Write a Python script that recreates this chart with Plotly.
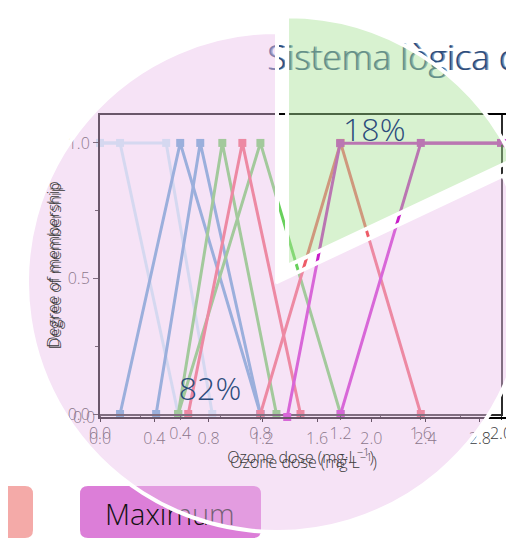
import plotly.graph_objects as go

# the page sits 8px in from the window corner, and the canvas is a bit larger
# than the window so the big pie can run off the right/bottom edges
W, H = 540, 548
OFF = 8

# pie shares (%)
pie_labels = ["Fuzzy", "Resta"]
pie_values = [18, 82]

# membership functions, ozone dose (mg/L) at the vertices
x_vlow = [0.0, 0.10, 0.39]
x_low = [0.0, 0.33, 0.56]
x_mlow_a = [0.10, 0.40, 0.80]
x_mlow_b = [0.28, 0.50, 0.80]
x_med_a = [0.39, 0.61, 0.88]
x_med_b = [0.39, 0.80, 1.20]
x_mhigh_a = [0.44, 0.71, 1.00]
x_mhigh_b = [0.80, 1.20, 1.60]
x_vhigh = [1.20, 1.60, 2.00]
# this one lives on the second (0-3) axis
x_high = [1.38, 1.77, 3.00]
y_left = [1, 1, 0]
y_tri = [0, 1, 0]
y_right = [0, 1, 1]

x_ticks_a = [0.0, 0.4, 0.8, 1.2, 1.6, 2.0]
x_ticks_b = [0.0, 0.4, 0.8, 1.2, 1.6, 2.0, 2.4, 2.8]
y_ticks = [0.0, 0.5, 1.0]

legend_names = ["Mean", "Maximum"]

light = "#c4ecf4"
blue = "#5aa0d0"
green = "#68d05c"
red = "#ee5c68"
magenta = "#c81ec8"
navy = "#2c4c7c"
FONT = "Open Sans"

series = [
    (x_vlow, y_left, light, "x", "y"), (x_low, y_left, light, "x", "y"),
    (x_mlow_a, y_tri, blue, "x", "y"), (x_mlow_b, y_tri, blue, "x", "y"),
    (x_med_a, y_tri, green, "x", "y"), (x_med_b, y_tri, green, "x", "y"),
    (x_mhigh_a, y_tri, red, "x", "y"), (x_mhigh_b, y_tri, red, "x", "y"),
    (x_vhigh, y_right, magenta, "x", "y"), (x_high, y_right, magenta, "x2", "y2"),
]


def fx(px):
    # window pixel -> paper fraction
    return (px - OFF) / W


def fy(py):
    return (H - (py - OFF)) / H


fig = go.Figure()

for xs, ys, col, xr, yr in series:
    fig.add_trace(go.Scatter(
        x=xs, y=ys, mode="lines+markers", cliponaxis=False,
        line=dict(color=col, width=3),
        marker=dict(symbol="square", size=8, color=col),
        xaxis=xr, yaxis=yr, showlegend=False, hoverinfo="x+y",
    ))

# text layer in window pixels (title + legend labels), sits under the pie
fig.add_trace(go.Scatter(
    x=[267], y=[61], mode="text", text=["Sistema lògica difusa"],
    textposition="middle right", cliponaxis=False,
    textfont=dict(family=FONT, size=35, color=navy, weight=300,
                  shadow="1.5px 0px 0px rgba(44,76,124,0.6)"),
    xaxis="x3", yaxis="y3", showlegend=False, hoverinfo="skip",
))
fig.add_trace(go.Scatter(
    x=[6, 105], y=[518, 518], mode="text", text=legend_names,
    textposition=["middle left", "middle right"], cliponaxis=False,
    textfont=dict(family=FONT, size=29, color="#111111", weight=300),
    xaxis="x3", yaxis="y3", showlegend=False, hoverinfo="skip",
))

fig.add_trace(go.Pie(
    labels=pie_labels, values=pie_values, sort=False,
    direction="clockwise", rotation=0, pull=[0.075, 0],
    marker=dict(colors=["rgba(169,227,151,0.45)", "rgba(234,194,234,0.45)"],
                line=dict(color="white", width=4)),
    textinfo="percent", textposition="inside",
    insidetextorientation="horizontal",
    insidetextfont=dict(family=FONT, size=32, color=navy, weight=300),
    domain=dict(x=[0.25 / W, 537.75 / W], y=[(H - 542.75) / H, (H - 5.25) / H]),
    showlegend=False,
))


def rounded(x0, y0, x1, y1, r):
    return (f"M{x0+r},{y0} L{x1-r},{y0} Q{x1},{y0} {x1},{y0+r} "
            f"L{x1},{y1-r} Q{x1},{y1} {x1-r},{y1} L{x0+r},{y1} "
            f"Q{x0},{y1} {x0},{y1-r} L{x0},{y0+r} Q{x0},{y0} {x0+r},{y0} Z")


fig.add_shape(type="path", path=rounded(-110, 486, 33, 538, 8),
              xref="x3", yref="y3", layer="below",
              fillcolor="#f4aaa8", line=dict(width=0))
fig.add_shape(type="path", path=rounded(80, 486, 261, 538, 8),
              xref="x3", yref="y3", layer="below",
              fillcolor="#dc7ed8", line=dict(width=0))

tick_font = dict(family=FONT, size=16, color="#3a3a3a", weight=300)
title_font = dict(family=FONT, size=16, color="#3a3a3a", weight=300)
xtitle = "Ozone dose (mg·L<sup>−1</sup>)"
ytitle = "Degree of membership"

# axes A (0-2) and B (0-3) drawn slightly offset from each other
fig.update_layout(
    width=W, height=H,
    margin=dict(l=0, r=0, t=0, b=0, autoexpand=False),
    paper_bgcolor="white", plot_bgcolor="rgba(0,0,0,0)",
    showlegend=False,
    xaxis=dict(domain=[fx(100), fx(501)], range=[0, 2.0], anchor="y",
               tickvals=x_ticks_a, tickformat=".1f", automargin=False,
               showline=True, mirror=True, linecolor="#2b2b2b", linewidth=2,
               ticks="outside", ticklen=4, tickcolor="#2b2b2b",
               minor=dict(ticks="outside", ticklen=2, dtick=0.2, tickcolor="#2b2b2b"),
               showgrid=False, zeroline=False, tickfont=tick_font,
               title=dict(text=xtitle, font=title_font, standoff=8)),
    yaxis=dict(domain=[fy(414), fy(115)], range=[0, 1.103], anchor="x",
               tickvals=y_ticks, tickformat=".1f", automargin=False,
               showline=True, mirror=True, linecolor="#2b2b2b", linewidth=2,
               ticks="outside", ticklen=5, tickcolor="#2b2b2b",
               minor=dict(ticks="outside", ticklen=3, dtick=0.25, tickcolor="#2b2b2b"),
               showgrid=False, zeroline=False, tickfont=tick_font,
               title=dict(text=ytitle, font=title_font, standoff=4)),
    xaxis2=dict(domain=[fx(100), fx(507)], range=[0, 3.0], anchor="y2",
                tickvals=x_ticks_b, tickformat=".1f", automargin=False,
                showline=True, mirror=True, linecolor="#000000", linewidth=1.5,
                ticks="outside", ticklen=3, tickcolor="#000000",
                ticklabelstandoff=3,
                showgrid=False, zeroline=False, tickfont=tick_font,
                title=dict(text=xtitle, font=title_font, standoff=4)),
    yaxis2=dict(domain=[fy(417), fy(115)], range=[0, 1.103], anchor="x2",
                tickvals=[0.0], tickformat=".1f", automargin=False,
                showline=True, mirror=True, linecolor="#000000", linewidth=1.5,
                ticks="", showgrid=False, zeroline=False, tickfont=tick_font,
                title=dict(text=ytitle, font=title_font, standoff=7)),
    # helper axes covering the whole canvas, in window pixels
    xaxis3=dict(domain=[0, 1], range=[OFF, OFF + W], anchor="y3", visible=False,
                fixedrange=True, automargin=False),
    yaxis3=dict(domain=[0, 1], range=[OFF + H, OFF], anchor="x3", visible=False,
                fixedrange=True, automargin=False),
)

fig.write_html("out.html")
